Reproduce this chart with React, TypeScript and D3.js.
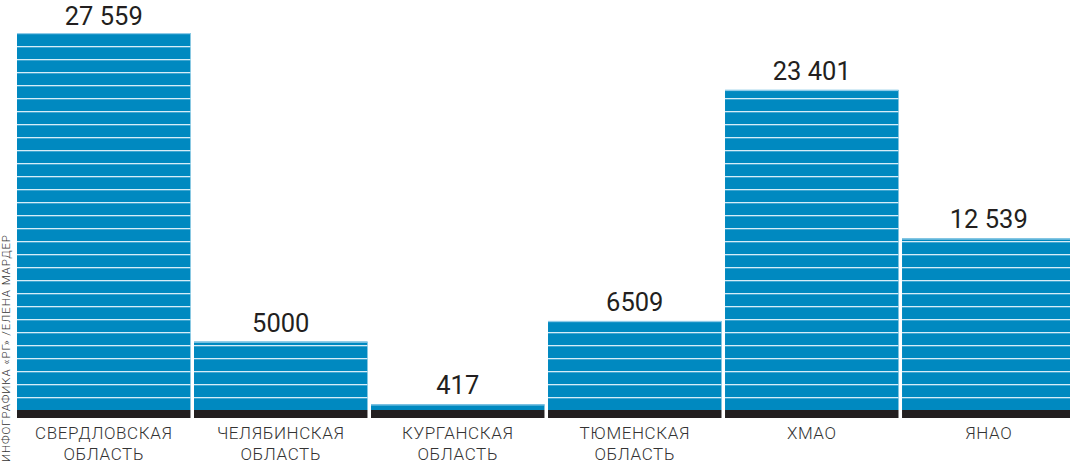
import React from 'react';
import * as d3 from 'd3';

// data
const regions = ['СВЕРДЛОВСКАЯ ОБЛАСТЬ', 'ЧЕЛЯБИНСКАЯ ОБЛАСТЬ', 'КУРГАНСКАЯ ОБЛАСТЬ', 'ТЮМЕНСКАЯ ОБЛАСТЬ', 'ХМАО', 'ЯНАО'];
const values = [27559, 5000, 417, 6509, 23401, 12539];
const credit = 'ИНФОГРАФИКА «РГ» /ЕЛЕНА МАРДЕР';

const W = 1070;
const H = 464;
const baseY = 410;
const stripeStep = 13;

const fmt = (v: number) => (v >= 10000 ? d3.format(',')(v).replace(',', ' ') : String(v));

export default function App() {
  const x = d3.scaleBand<string>().domain(regions).range([17, 1075.5]).paddingInner(0.02).paddingOuter(0);
  const y = d3.scaleLinear().domain([0, d3.max(values) as number]).range([baseY, 33]);
  const gridTop = y(d3.max(values) as number);

  return (
    <svg width={W} height={H} style={{ position: 'absolute', left: 0, top: 0, display: 'block', background: '#fff' }}>
      {regions.map((r, i) => {
        const x0 = x(r) as number;
        const bw = x.bandwidth();
        const top = y(values[i]);
        // stripe lines on a shared grid anchored at the tallest bar
        const lines: number[] = [];
        for (let ly = gridTop + stripeStep; ly < baseY - 3; ly += stripeStep) {
          if (ly > top + 2) lines.push(ly);
        }
        const words = r.split(' ');
        return (
          <g key={r}>
            <rect x={x0} y={top} width={bw} height={baseY - top} fill="#0089c0" />
            <rect x={x0} y={top} width={bw} height={1.2} fill="#8fcbe8" />
            {lines.map((ly) => (
              <rect key={ly} x={x0} y={ly} width={bw} height={1.3} fill="#d6edf8" />
            ))}
            <rect x={x0} y={baseY} width={bw} height={8} fill="#231f20" />
            <text
              x={x0 + bw / 2}
              y={Math.max(top - 10, 25)}
              textAnchor="middle"
              fontFamily="Roboto, sans-serif"
              fontWeight={400}
              fontSize={25.5}
              fill="#231f20"
            >
              {fmt(values[i])}
            </text>
            {words.map((w, j) => (
              <text
                key={w}
                x={x0 + bw / 2}
                y={439 + j * 21}
                textAnchor="middle"
                fontFamily="Roboto, sans-serif"
                fontWeight={300}
                fontSize={17}
                letterSpacing={0.6}
                fill="#333"
              >
                {w}
              </text>
            ))}
          </g>
        );
      })}
      <text
        transform="translate(10,462) rotate(-90)"
        fontFamily="Roboto, sans-serif"
        fontWeight={300}
        fontSize={11.5}
        letterSpacing={0.9}
        fill="#333"
      >
        {credit}
      </text>
    </svg>
  );
}
